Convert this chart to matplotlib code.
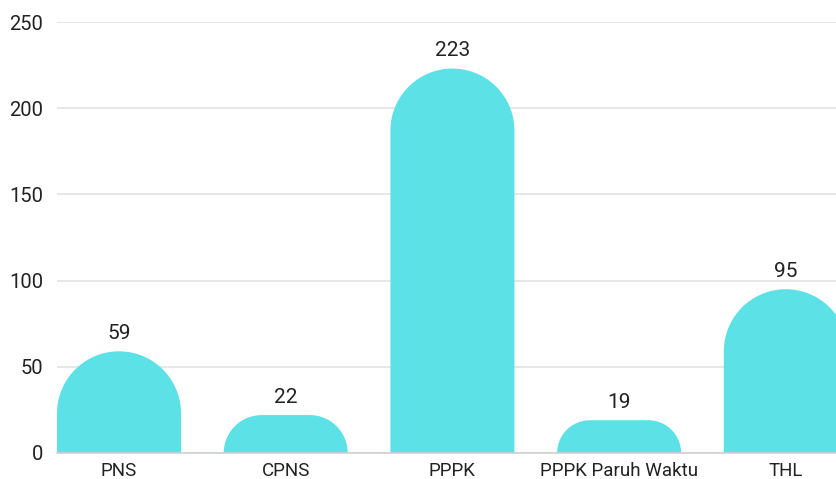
import matplotlib
matplotlib.use("Agg")
import matplotlib.pyplot as plt
import numpy as np
from matplotlib.path import Path
from matplotlib.patches import PathPatch

categories = ['PNS', 'CPNS', 'PPPK', 'PPPK Paruh Waktu', 'THL']
values = [59, 22, 223, 19, 95]
yticks = [0, 50, 100, 150, 200, 250]

bar_color = '#5ce1e6'
bar_w = 0.744

plt.rcParams['font.family'] = ['Roboto', 'DejaVu Sans']

fig = plt.figure(figsize=(8.37, 4.79), dpi=100)
ax = fig.add_axes([57 / 837, 26 / 479, 780 / 837, 431 / 479])
ax.set_xlim(-bar_w / 2, 4.307)
ax.set_ylim(0, 250)

# pixels per data unit, to make round corners circular on screen
fig.canvas.draw()
p0 = ax.transData.transform((0, 0))
p1 = ax.transData.transform((1, 1))
sx, sy = p1[0] - p0[0], p1[1] - p0[1]


def rounded_bar(x, h):
    w_px = bar_w * sx
    h_px = h * sy
    r = min(w_px / 2, h_px)
    rx, ry = r / sx, r / sy
    left, right = x - bar_w / 2, x + bar_w / 2
    t = np.linspace(0, np.pi / 2, 30)
    verts = [(left, 0), (left, h - ry)]
    # left corner
    verts += list(zip(left + rx - rx * np.cos(t), h - ry + ry * np.sin(t)))
    # right corner
    verts += list(zip(right - rx + rx * np.sin(t), h - ry + ry * np.cos(t)))
    verts += [(right, h - ry), (right, 0), (left, 0)]
    codes = [Path.MOVETO] + [Path.LINETO] * (len(verts) - 2) + [Path.CLOSEPOLY]
    return PathPatch(Path(verts, codes), facecolor=bar_color, edgecolor='none', zorder=2)


xs = np.arange(len(categories))
for x, v in zip(xs, values):
    ax.add_patch(rounded_bar(x, v))
    ax.annotate(str(v), (x, v), xytext=(0, 6), textcoords='offset points',
                ha='center', va='bottom', fontsize=15, color='#222222')

ax.set_yticks(yticks)
ax.set_xticks(xs)
ax.set_xticklabels(categories)
ax.grid(axis='y', color='#e3e3e3', linewidth=1.2, zorder=0)
ax.set_axisbelow(True)
for s in ['top', 'right', 'left']:
    ax.spines[s].set_visible(False)
ax.spines['bottom'].set_color('#d0d0d0')
ax.spines['bottom'].set_linewidth(1.2)
ax.tick_params(axis='both', length=0, labelcolor='#222222')
ax.tick_params(axis='y', pad=10, labelsize=14.5)
ax.tick_params(axis='x', pad=6.5, labelsize=13.5)

fig.savefig('out.png', dpi=100)
